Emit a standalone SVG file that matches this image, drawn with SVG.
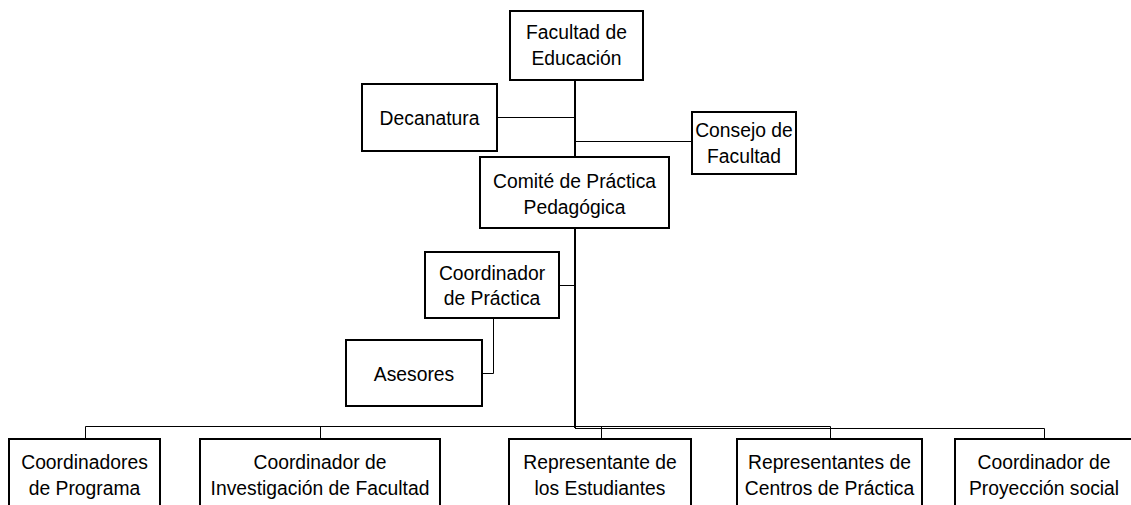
<svg xmlns="http://www.w3.org/2000/svg" width="1131" height="505" viewBox="0 0 1131 505">
<style>
.box{fill:#fff;stroke:#000;stroke-width:2}
.t{font-family:"Liberation Sans",Arial,sans-serif;font-size:21px;fill:#000;text-anchor:middle}
.thin{stroke:#000;stroke-width:1;fill:none}
.thick{stroke:#000;stroke-width:2;fill:none}
</style>
<rect width="1131" height="505" fill="#fff"/>
<g id="connectors">
<line class="thick" x1="575" y1="80" x2="575" y2="157"/>
<line class="thick" x1="575" y1="228" x2="575" y2="428"/>
<line class="thin" x1="497" y1="117.5" x2="575" y2="117.5"/>
<line class="thin" x1="575" y1="141.5" x2="692" y2="141.5"/>
<line class="thin" x1="559" y1="285.5" x2="575" y2="285.5"/>
<polyline class="thin" points="493.5,318 493.5,373.5 482,373.5"/>
<polyline class="thin" points="85.5,439 85.5,426.5 830.5,426.5 830.5,439"/>
<line class="thin" x1="320.5" y1="426.5" x2="320.5" y2="439"/>
<line class="thin" x1="601.5" y1="426.5" x2="601.5" y2="439"/>
<polyline class="thin" points="575,428.5 1044.5,428.5 1044.5,439"/>
</g>
<g id="facultad">
<rect class="box" x="510" y="11" width="133" height="69"/>
<text class="t" transform="translate(576.5,39) scale(0.92,1)">Facultad de</text>
<text class="t" transform="translate(576.5,65) scale(0.92,1)">Educación</text>
</g>
<g id="decanatura">
<rect class="box" x="362" y="84" width="135" height="67"/>
<text class="t" transform="translate(429.5,125) scale(0.92,1)">Decanatura</text>
</g>
<g id="consejo">
<rect class="box" x="692" y="112" width="104" height="62"/>
<text class="t" transform="translate(744,137) scale(0.92,1)">Consejo de</text>
<text class="t" transform="translate(744,163) scale(0.92,1)">Facultad</text>
</g>
<g id="comite">
<rect class="box" x="480" y="157" width="189" height="71"/>
<text class="t" transform="translate(574.5,188) scale(0.92,1)">Comité de Práctica</text>
<text class="t" transform="translate(574.5,214) scale(0.92,1)">Pedagógica</text>
</g>
<g id="coordinador-practica">
<rect class="box" x="425" y="252" width="134" height="66"/>
<text class="t" transform="translate(492,280) scale(0.92,1)">Coordinador</text>
<text class="t" transform="translate(492,305) scale(0.92,1)">de Práctica</text>
</g>
<g id="asesores">
<rect class="box" x="346" y="340" width="136" height="66"/>
<text class="t" transform="translate(414,381) scale(0.92,1)">Asesores</text>
</g>
<g id="coordinadores-programa">
<rect class="box" x="9" y="439" width="151" height="80"/>
<text class="t" transform="translate(84.5,469) scale(0.92,1)">Coordinadores</text>
<text class="t" transform="translate(84.5,495) scale(0.92,1)">de Programa</text>
</g>
<g id="coordinador-investigacion">
<rect class="box" x="200" y="439" width="240" height="80"/>
<text class="t" transform="translate(320,469) scale(0.92,1)">Coordinador de</text>
<text class="t" transform="translate(320,495) scale(0.92,1)">Investigación de Facultad</text>
</g>
<g id="representante-estudiantes">
<rect class="box" x="509" y="439" width="182" height="80"/>
<text class="t" transform="translate(600,469) scale(0.92,1)">Representante de</text>
<text class="t" transform="translate(600,495) scale(0.92,1)">los Estudiantes</text>
</g>
<g id="representantes-centros">
<rect class="box" x="737" y="439" width="185" height="80"/>
<text class="t" transform="translate(829.5,469) scale(0.92,1)">Representantes de</text>
<text class="t" transform="translate(829.5,495) scale(0.92,1)">Centros de Práctica</text>
</g>
<g id="coordinador-proyeccion">
<rect class="box" x="955" y="439" width="180" height="80"/>
<text class="t" transform="translate(1044,469) scale(0.92,1)">Coordinador de</text>
<text class="t" transform="translate(1044,495) scale(0.92,1)">Proyección social</text>
</g>
</svg>
